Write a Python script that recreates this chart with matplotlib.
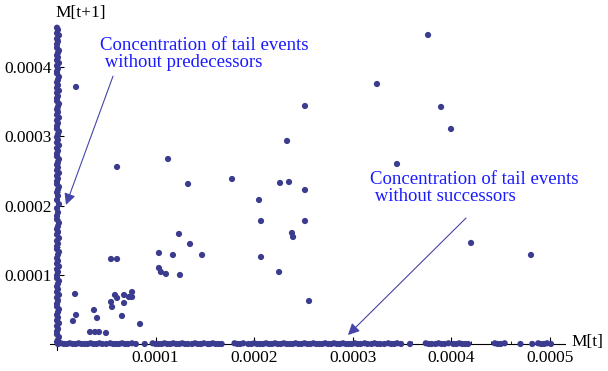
import numpy as np
import matplotlib
matplotlib.use("Agg")
from matplotlib import pyplot as plt
from matplotlib.ticker import MultipleLocator, FuncFormatter

plt.rcParams['font.family'] = ['Liberation Serif', 'DejaVu Serif']

# values in units of 1e-6
# events with both M[t] and M[t+1] non-zero
pair_x = [19.3, 60.9, 112.6, 132.9, 123.7, 134.9, 103.4, 117.6, 103.4, 105.4, 110.5, 124.7,
          54.8, 60.9, 18.3, 19.3, 16.2, 37.5, 40.6, 33.5, 38.5, 42.6, 49.7, 54.8, 55.8, 58.8,
          60.9, 65.9, 68.0, 68.0, 73.0, 76.1, 76.1, 84.2,
          251.5, 233.3, 177.5, 226.2, 235.3, 251.5, 204.9, 206.9, 251.5, 238.3, 239.4, 147.1,
          206.9, 225.2, 255.6, 376.3, 324.5, 389.5, 399.6, 344.8, 419.9, 480.7]
pair_y = [371.4, 255.8, 267.3, 231.2, 159.0, 144.5, 131.5, 128.6, 109.8, 104.0, 101.2, 99.7,
          122.8, 122.8, 72.3, 41.9, 33.2, 49.1, 37.6, 17.3, 17.3, 17.3, 15.9, 60.7, 53.5, 70.8,
          66.5, 40.5, 59.2, 70.8, 67.9, 75.1, 67.9, 28.9,
          343.9, 293.4, 238.4, 232.7, 234.1, 222.5, 208.1, 177.7, 177.7, 160.4, 154.6, 128.6,
          125.7, 104.0, 62.1, 446.5, 375.7, 342.5, 310.7, 260.1, 146.0, 128.6]

# tail events without predecessors (M[t] ~ 0)
pred_y = [457, 454, 449, 446, 441, 437, 433, 428, 424, 421,
          417, 414, 410, 406, 402, 398, 394, 391, 386, 382,
          378, 374, 370, 366, 363, 358, 355, 351, 347, 343,
          339, 335, 331, 327, 323, 319, 315, 311, 307, 303,
          299, 295, 291, 287, 283, 279, 275, 271, 267, 263,
          259, 255, 251, 247, 243, 239, 235, 231, 227, 223,
          219, 214, 208, 202, 196, 190, 185, 180, 175, 170,
          166, 162, 158, 153, 149, 145, 141, 137, 133, 129,
          124, 120, 116, 112, 108, 104, 99, 95, 91, 87,
          83, 79, 75, 71, 67, 63, 58, 54, 50, 46,
          42, 38, 34, 30, 26, 22, 18, 14, 10, 6,
          3]
pred_x = [0, 1, 0, 2, 0, 1, 0, 0, 2, 1,
          0, 1, 0, 2, 0, 1, 0, 0, 2, 1,
          0, 1, 0, 2, 0, 1, 0, 0, 2, 1,
          0, 1, 0, 2, 0, 1, 0, 0, 2, 1,
          0, 1, 0, 2, 0, 1, 0, 0, 2, 1,
          0, 1, 0, 2, 0, 1, 0, 0, 2, 1,
          0, 1, 0, 2, 0, 1, 0, 0, 2, 1,
          0, 1, 0, 2, 0, 1, 0, 0, 2, 1,
          0, 1, 0, 2, 0, 1, 0, 0, 2, 1,
          0, 1, 0, 2, 0, 1, 0, 0, 2, 1,
          0, 1, 0, 2, 0, 1, 0, 0, 2, 1,
          0]

# tail events without successors (M[t+1] ~ 0)
succ_x = [1, 4, 7, 10, 13, 16, 19, 22, 25, 28,
          31, 34, 37, 40, 43, 46, 50, 54, 57, 60,
          63, 66, 69, 72, 76, 80, 89, 97, 100, 103,
          106, 109, 112, 115, 118, 121, 124, 127, 130, 133,
          137, 140, 143, 146, 149, 153, 155, 158, 161, 164,
          167, 180, 183, 186, 189, 194, 197, 200, 203, 206,
          209, 212, 215, 218, 221, 224, 227, 230, 233, 236,
          239, 242, 245, 248, 251, 254, 257, 260, 263, 266,
          269, 272, 275, 278, 281, 284, 287, 290, 293, 296,
          299, 302, 305, 308, 312, 315, 319, 322, 325, 328,
          332, 336, 339, 342, 345, 349, 358, 374, 377, 380,
          384, 387, 390, 393, 397, 402, 405, 408, 411, 414,
          417, 444, 447, 450, 454, 470, 482, 488, 491, 494,
          497, 501]
succ_y = [0, 1, 0, 0, 1, 0, 0, 1, 0, 0,
          0, 1, 0, 0, 1, 0, 0, 1, 0, 0,
          0, 1, 0, 0, 1, 0, 0, 1, 0, 0,
          0, 1, 0, 0, 1, 0, 0, 1, 0, 0,
          0, 1, 0, 0, 1, 0, 0, 1, 0, 0,
          0, 1, 0, 0, 1, 0, 0, 1, 0, 0,
          0, 1, 0, 0, 1, 0, 0, 1, 0, 0,
          0, 1, 0, 0, 1, 0, 0, 1, 0, 0,
          0, 1, 0, 0, 1, 0, 0, 1, 0, 0,
          0, 1, 0, 0, 1, 0, 0, 1, 0, 0,
          0, 1, 0, 0, 1, 0, 0, 1, 0, 0,
          0, 1, 0, 0, 1, 0, 0, 1, 0, 0,
          0, 1, 0, 0, 1, 0, 0, 1, 0, 0,
          1, 0]

scale = 1e-6
xs = np.array(pair_x + pred_x + succ_x) * scale
ys = np.array(pair_y + pred_y + succ_y) * scale

pt_color = '#3b3b8f'
txt_color = '#1a1aff'

fig = plt.figure(figsize=(6.08, 3.71), dpi=100)
ax = fig.add_axes([50 / 608, 21 / 371, 515 / 608, 324 / 371])

ax.scatter(xs, ys, s=20, color=pt_color, edgecolors='none', zorder=3, clip_on=False)

ax.set_xlim(-0.0000071, 0.0005152)
ax.set_ylim(-0.0000087, 0.0004595)

for s in ['top', 'right']:
    ax.spines[s].set_visible(False)
ax.spines['left'].set_position(('data', 0))
ax.spines['bottom'].set_position(('data', 0))
for s in ['left', 'bottom']:
    ax.spines[s].set_linewidth(0.8)

ax.xaxis.set_major_locator(MultipleLocator(0.0001))
ax.xaxis.set_minor_locator(MultipleLocator(0.00002))
ax.yaxis.set_major_locator(MultipleLocator(0.0001))
ax.yaxis.set_minor_locator(MultipleLocator(0.00002))
fmt = FuncFormatter(lambda v, p: '' if abs(v) < 1e-9 else '%.4f' % v)
ax.xaxis.set_major_formatter(fmt)
ax.yaxis.set_major_formatter(fmt)
ax.tick_params(which='major', direction='in', length=5, width=0.8, labelsize=12.5, pad=4)
ax.tick_params(which='minor', direction='in', length=2.5, width=0.6)

ax.text(0.0000245, 0.000478, 'M[t+1]', fontsize=12.5, ha='center', va='center')
ax.text(0.000522, 0.0000025, 'M[t]', fontsize=12.5, ha='left', va='center')

ax.text(0.0000436, 0.000444, 'Concentration of tail events\n without predecessors',
        color=txt_color, fontsize=13.5, ha='left', va='top', linespacing=1.0)
ax.annotate('', xy=(0.0000091, 0.000201), xytext=(0.0000568, 0.000387),
            arrowprops=dict(arrowstyle='-|>', color='#4545a8', lw=0.8,
                            mutation_scale=17, shrinkA=0, shrinkB=0))

ax.text(0.0003174, 0.000250, 'Concentration of tail events\n without successors',
        color=txt_color, fontsize=13.5, ha='left', va='top', linespacing=1.0)
ax.annotate('', xy=(0.0002951, 0.000013), xytext=(0.0004148, 0.000182),
            arrowprops=dict(arrowstyle='-|>', color='#4545a8', lw=0.8,
                            mutation_scale=17, shrinkA=0, shrinkB=0))

plt.savefig('out.png', dpi=100)
